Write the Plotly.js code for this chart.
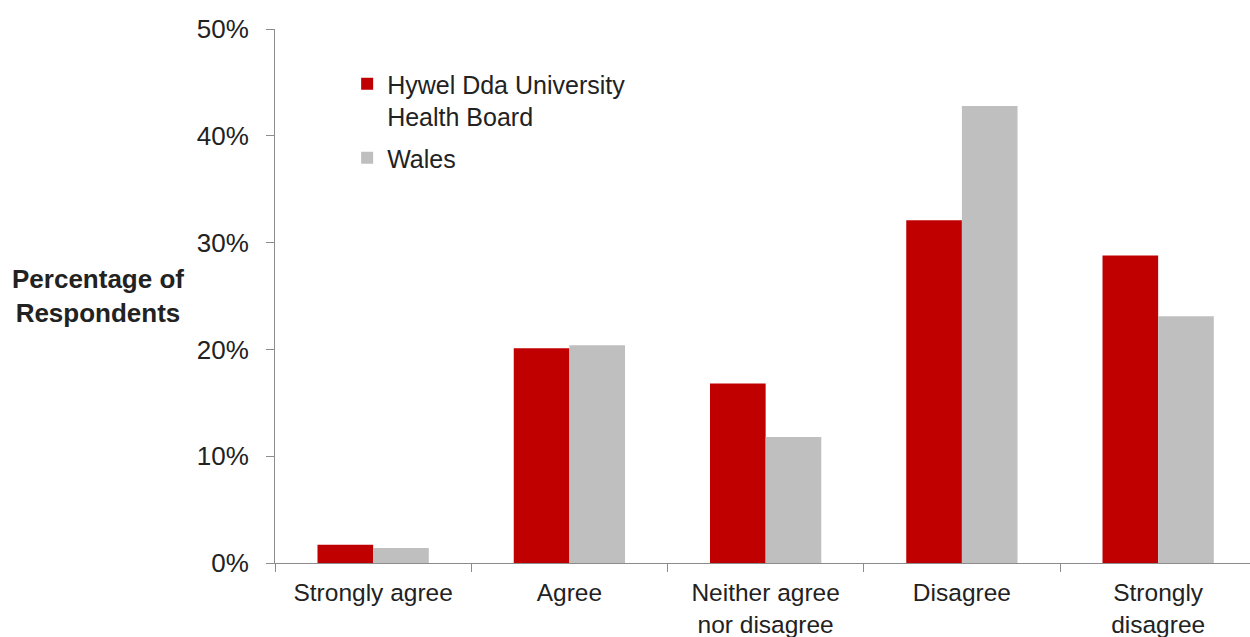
<!DOCTYPE html>
<html>
<head>
<meta charset="utf-8">
<script src="https://cdn.plot.ly/plotly-3.0.1.min.js"></script>
<style>
  html, body { margin: 0; padding: 0; background: #ffffff; }
  #chart { width: 1250px; height: 637px; }
</style>
</head>
<body>
<div id="chart"></div>
<script>
// Survey response categories (x axis)
const categories = [
  'Strongly agree',
  'Agree',
  'Neither agree<br>nor disagree',
  'Disagree',
  'Strongly<br>disagree'
];

// Percentage of respondents per category
const hywelDda = [1.7, 20.1, 16.8, 32.1, 28.8];
const wales = [1.4, 20.4, 11.8, 42.8, 23.1];

// Series names shown in the legend
const seriesNames = ['Hywel Dda University<br>Health Board', 'Wales'];

const FONT = 'Liberation Sans, Arial, Helvetica, sans-serif';
const TEXT = '#222222';
const AXIS = '#8c8c8c';

const traces = [
  {
    type: 'bar',
    name: seriesNames[0],
    legendgroup: 'hdd',
    x: categories,
    y: hywelDda,
    marker: { color: '#C00000', line: { width: 0 } },
    hoverinfo: 'x+y+name'
  },
  {
    type: 'bar',
    name: seriesNames[1],
    legendgroup: 'wales',
    x: categories,
    y: wales,
    marker: { color: '#BFBFBF', line: { width: 0 } },
    hoverinfo: 'x+y+name'
  }
];

const layout = {
  width: 1250,
  height: 637,
  margin: { l: 275, r: 0, t: 29, b: 74, pad: 0 },
  paper_bgcolor: '#ffffff',
  plot_bgcolor: '#ffffff',
  font: { family: FONT, size: 26, color: TEXT },
  barmode: 'group',
  bargap: 0.433,
  bargroupgap: 0,
  showlegend: true,
  legend: {
    x: 0.074,
    y: 0.94,
    xanchor: 'left',
    yanchor: 'top',
    bgcolor: 'rgba(0,0,0,0)',
    borderwidth: 0,
    valign: 'top',
    tracegroupgap: 6,
    font: { family: FONT, size: 25, color: TEXT }
  },
  xaxis: {
    type: 'category',
    range: [-0.5, 4.468],
    showline: true,
    linecolor: AXIS,
    linewidth: 1,
    ticks: 'outside',
    tickson: 'boundaries',
    ticklen: 8,
    tickcolor: AXIS,
    tickwidth: 1,
    ticklabelstandoff: 8,
    showgrid: false,
    zeroline: false,
    tickfont: { family: FONT, size: 24.5, color: TEXT },
    fixedrange: true
  },
  yaxis: {
    range: [0, 50],
    dtick: 10,
    tick0: 0,
    ticksuffix: '%',
    showline: true,
    linecolor: AXIS,
    linewidth: 1,
    ticks: 'outside',
    ticklen: 8,
    tickcolor: AXIS,
    tickwidth: 1,
    ticklabelstandoff: 12,
    showgrid: false,
    zeroline: false,
    tickfont: { family: FONT, size: 26, color: TEXT },
    fixedrange: true
  },
  annotations: [
    {
      text: '<b>Percentage of<br>Respondents</b>',
      xref: 'paper',
      yref: 'paper',
      x: -0.1815,
      y: 0.5,
      xanchor: 'center',
      yanchor: 'middle',
      align: 'center',
      showarrow: false,
      font: { family: FONT, size: 26, color: TEXT }
    }
  ]
};

Plotly.newPlot('chart', traces, layout, { displayModeBar: false, staticPlot: true });
</script>
</body>
</html>
